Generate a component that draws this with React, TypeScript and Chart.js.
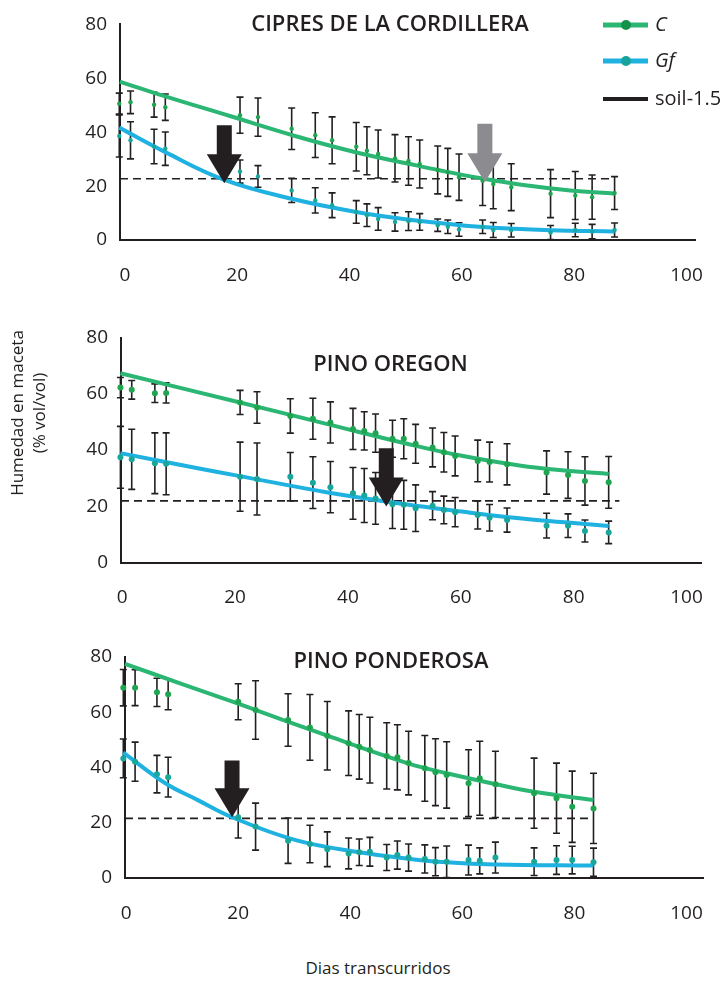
import React, { useEffect, useRef } from 'react';
import { Chart, registerables } from 'chart.js';

Chart.register(...registerables);

const FONT = "'Open Sans', 'DejaVu Sans', sans-serif";
const DARK = '#231f20';
const GREEN_LINE = '#2bb673';
const GREEN_PT = '#1fa54f';
const BLUE_LINE = '#1fb1e0';
const TEAL_PT = '#19a79c';

// ---------- shared ticks ----------
const xTickValues = [0, 20, 40, 60, 80, 100];
const yTickValues = [0, 20, 40, 60, 80];

// ---------- CIPRES DE LA CORDILLERA ----------
const cipresDays = [-1.0, 1.0, 5.2, 7.2, 20.5, 23.7, 29.7, 33.9, 36.9, 41.2, 43.1, 45.1, 48.1, 50.5, 52.5, 55.7, 57.5, 59.5, 63.7, 65.6, 68.8, 75.8, 80.2, 83.2, 87.2];
const cipresC = [50.6, 51.1, 50.2, 49.3, 46.3, 45.6, 41.3, 38.9, 37.0, 34.6, 33.1, 31.9, 30.3, 29.3, 28.2, 26.0, 25.1, 23.3, 22.0, 20.8, 19.6, 17.2, 16.5, 15.9, 17.4];
const cipresCErr = [3.9, 4.2, 4.6, 4.9, 6.7, 7.1, 7.7, 8.3, 8.7, 9.0, 8.9, 8.9, 8.8, 9.0, 8.9, 8.9, 8.9, 8.6, 9.2, 9.2, 8.7, 8.9, 8.9, 8.2, 6.1];
const cipresGf = [38.6, 37.0, 34.7, 33.9, 25.4, 23.6, 18.4, 14.7, 12.9, 10.4, 9.2, 7.8, 6.7, 7.0, 6.7, 5.5, 4.9, 3.9, 4.9, 3.7, 3.6, 2.8, 3.7, 3.1, 3.7];
const cipresGfErr = [7.8, 6.9, 6.4, 6.2, 4.3, 4.0, 4.5, 4.7, 4.6, 4.2, 4.2, 4.2, 3.4, 3.5, 3.1, 2.3, 2.5, 2.5, 2.5, 2.8, 2.5, 2.6, 2.5, 2.7, 2.6];
const cipresFitCDays = [-0.9, 7.2, 18.7, 30.3, 41.8, 50.5, 56.2, 63.7, 70.6, 79.3, 87.2];
const cipresFitC = [58.8, 53.3, 46.0, 38.6, 32.2, 28.3, 25.8, 22.8, 20.5, 18.4, 17.2];
const cipresFitGfDays = [-1.0, 7.2, 17.6, 29.7, 41.2, 50.5, 55.7, 63.7, 75.8, 87.2];
const cipresFitGf = [41.7, 32.6, 22.4, 15.3, 10.4, 7.6, 6.4, 4.8, 3.6, 3.2];
const cipresSoil = [22.7, 22.7];
const cipresSoilDays = [-0.87, 87.2];
const cipresArrowDays = [17.7, 64.1];
const cipresArrowTips = [21.1, 21.4];
const cipresArrowTops = [42.6, 43.1];

// ---------- PINO OREGON ----------
const oregonDays = [-0.3, 1.7, 5.8, 7.8, 20.9, 23.9, 29.8, 33.8, 36.9, 40.9, 42.9, 44.9, 47.9, 49.9, 52.0, 55.0, 57.0, 59.0, 63.0, 65.1, 68.2, 75.2, 79.0, 82.0, 86.2];
const oregonC = [62.2, 61.4, 60.2, 60.3, 56.9, 55.1, 52.1, 51.1, 49.8, 47.5, 46.8, 46.0, 44.0, 44.0, 42.2, 40.9, 39.2, 37.9, 36.1, 35.7, 34.9, 32.0, 31.1, 29.0, 28.5];
const oregonCErr = [3.6, 3.3, 3.3, 3.6, 4.3, 5.6, 6.1, 7.3, 7.3, 7.3, 6.8, 6.8, 6.6, 7.1, 6.9, 6.9, 7.0, 7.1, 7.4, 7.1, 7.3, 7.7, 8.3, 8.6, 9.2];
const oregonGf = [37.4, 36.7, 35.3, 35.1, 30.5, 29.7, 30.5, 28.4, 26.8, 24.6, 23.8, 22.8, 20.7, 20.5, 19.3, 20.2, 18.7, 17.9, 16.9, 15.9, 15.1, 13.1, 13.1, 11.2, 10.7];
const oregonGfErr = [11.0, 10.7, 10.8, 11.0, 12.3, 12.8, 8.6, 9.2, 9.1, 9.2, 9.6, 9.2, 8.6, 8.7, 8.3, 5.0, 4.9, 5.2, 5.0, 4.7, 4.3, 4.4, 4.2, 3.9, 4.0];
const oregonFitCDays = [-0.3, 20.9, 36.2, 50.5, 59.0, 70.4, 79.0, 86.2];
const oregonFitC = [67.3, 56.9, 49.3, 42.2, 38.4, 34.5, 32.6, 31.5];
const oregonFitGfDays = [-0.3, 13.4, 20.9, 36.2, 50.5, 59.0, 70.4, 79.0, 86.2];
const oregonFitGf = [38.9, 33.5, 30.7, 25.0, 20.6, 18.4, 15.7, 14.2, 13.0];
const oregonSoil = [21.9, 21.9];
const oregonSoilDays = [-0.2, 88.1];
const oregonArrowDays = [46.8];
const oregonArrowTips = [19.9];
const oregonArrowTops = [40.6];

// ---------- PINO PONDEROSA ----------
const ponderosaDays = [-0.5, 1.6, 5.5, 7.5, 20.0, 23.1, 28.9, 32.8, 35.9, 39.7, 41.6, 43.5, 46.5, 48.4, 50.4, 53.3, 55.2, 57.2, 61.1, 63.1, 65.9, 72.8, 76.8, 79.6, 83.4];
const ponderosaC = [68.9, 68.9, 67.2, 66.5, 63.8, 60.8, 57.2, 54.5, 51.5, 48.8, 47.5, 46.3, 44.2, 43.7, 41.6, 39.7, 38.3, 37.3, 34.3, 36.1, 33.9, 30.7, 28.9, 25.8, 25.2];
const ponderosaCErr = [6.6, 6.5, 5.1, 5.6, 6.5, 10.6, 9.5, 11.9, 12.4, 11.7, 11.7, 11.9, 12.0, 11.8, 11.5, 11.9, 12.1, 12.0, 12.1, 13.4, 12.0, 12.7, 12.7, 12.9, 12.7];
const ponderosaGf = [43.3, 42.1, 37.6, 36.5, 22.0, 18.6, 13.5, 12.3, 10.4, 8.9, 9.3, 9.5, 7.4, 8.3, 7.4, 6.9, 5.9, 5.9, 6.5, 6.2, 7.4, 5.9, 6.5, 6.5, 5.7];
const ponderosaGfErr = [7.0, 7.1, 6.8, 7.2, 7.5, 8.5, 8.2, 6.8, 6.3, 5.6, 4.8, 5.2, 4.7, 5.1, 4.9, 5.1, 5.1, 5.7, 5.4, 4.7, 5.6, 5.0, 5.2, 5.0, 5.1];
const ponderosaFitCDays = [-0.2, 10.0, 20.0, 35.9, 50.3, 57.2, 65.9, 72.8, 83.4];
const ponderosaFitC = [77.5, 70.2, 63.1, 51.5, 41.5, 37.9, 34.0, 31.2, 28.2];
const ponderosaFitGfDays = [-0.5, 7.0, 12.8, 18.9, 30.1, 41.6, 50.3, 57.2, 65.9, 83.4];
const ponderosaFitGf = [45.4, 34.3, 28.2, 22.0, 13.8, 9.3, 7.0, 5.7, 4.9, 4.5];
const ponderosaSoil = [21.6, 21.6];
const ponderosaSoilDays = [-0.2, 83.4];
const ponderosaArrowDays = [18.9];
const ponderosaArrowTips = [22.0];
const ponderosaArrowTops = [42.5];

const pts = (xs: number[], ys: number[]) => xs.map((x, i) => ({ x, y: ys[i] }));

const panels = [
  {
    key: 'cipres',
    title: 'CIPRES DE LA CORDILLERA',
    days: cipresDays, c: cipresC, cErr: cipresCErr, gf: cipresGf, gfErr: cipresGfErr,
    fitCDays: cipresFitCDays, fitC: cipresFitC, fitGfDays: cipresFitGfDays, fitGf: cipresFitGf,
    soil: cipresSoil, soilDays: cipresSoilDays,
    arrowDays: cipresArrowDays, arrowTips: cipresArrowTips, arrowTops: cipresArrowTops,
    arrowColors: [DARK, '#8c8c90'],
    layout: { top: 0, height: 300, areaLeft: 120, areaTop: 22.5, areaRight: 712, areaBottom: 240, xMin: -0.87, xMax: 101.6, pointR: 2.2, titleX: 390, titleY: 25 },
    legend: true,
  },
  {
    key: 'oregon',
    title: 'PINO OREGON',
    days: oregonDays, c: oregonC, cErr: oregonCErr, gf: oregonGf, gfErr: oregonGfErr,
    fitCDays: oregonFitCDays, fitC: oregonFitC, fitGfDays: oregonFitGfDays, fitGf: oregonFitGf,
    soil: oregonSoil, soilDays: oregonSoilDays,
    arrowDays: oregonArrowDays, arrowTips: oregonArrowTips, arrowTops: oregonArrowTops,
    arrowColors: [DARK],
    layout: { top: 300, height: 320, areaLeft: 121, areaTop: 37.5, areaRight: 721, areaBottom: 262.5, xMin: -0.2, xMax: 102.6, pointR: 3, titleX: 390.5, titleY: 65 },
    legend: false,
  },
  {
    key: 'ponderosa',
    title: 'PINO PONDEROSA',
    days: ponderosaDays, c: ponderosaC, cErr: ponderosaCErr, gf: ponderosaGf, gfErr: ponderosaGfErr,
    fitCDays: ponderosaFitCDays, fitC: ponderosaFitC, fitGfDays: ponderosaFitGfDays, fitGf: ponderosaFitGf,
    soil: ponderosaSoil, soilDays: ponderosaSoilDays,
    arrowDays: ponderosaArrowDays, arrowTips: ponderosaArrowTips, arrowTops: ponderosaArrowTops,
    arrowColors: [DARK],
    layout: { top: 620, height: 320, areaLeft: 125, areaTop: 37, areaRight: 721, areaBottom: 258, xMin: -0.2, xMax: 103.1, pointR: 3, titleX: 391, titleY: 41.7 },
    legend: false,
  },
];

const errorBarPlugin = {
  id: 'errorBars',
  beforeDatasetsDraw(chart: any) {
    const { ctx } = chart;
    const xs = chart.scales.x;
    const ys = chart.scales.y;
    ctx.save();
    ctx.strokeStyle = DARK;
    ctx.lineWidth = 1.6;
    chart.data.datasets.forEach((ds: any) => {
      if (!ds.errors) return;
      ds.data.forEach((p: any, i: number) => {
        const e = ds.errors[i];
        const px = xs.getPixelForValue(p.x);
        const y1 = ys.getPixelForValue(p.y + e);
        const y2 = ys.getPixelForValue(p.y - e);
        ctx.beginPath();
        ctx.moveTo(px, y1);
        ctx.lineTo(px, y2);
        ctx.moveTo(px - 3.5, y1);
        ctx.lineTo(px + 3.5, y1);
        ctx.moveTo(px - 3.5, y2);
        ctx.lineTo(px + 3.5, y2);
        ctx.stroke();
      });
    });
    ctx.restore();
  },
};

const arrowPlugin = {
  id: 'arrows',
  afterDatasetsDraw(chart: any, _a: any, opts: any) {
    if (!opts || !opts.days) return;
    const { ctx } = chart;
    const xs = chart.scales.x;
    const ys = chart.scales.y;
    ctx.save();
    opts.days.forEach((d: number, i: number) => {
      const cx = xs.getPixelForValue(d);
      const tip = ys.getPixelForValue(opts.tips[i]);
      const top = ys.getPixelForValue(opts.tops[i]);
      const headH = 29;
      const sh = 7.5;
      const hh = 17.5;
      ctx.fillStyle = opts.colors[i];
      ctx.beginPath();
      ctx.moveTo(cx - sh, top);
      ctx.lineTo(cx + sh, top);
      ctx.lineTo(cx + sh, tip - headH);
      ctx.lineTo(cx + hh, tip - headH);
      ctx.lineTo(cx, tip);
      ctx.lineTo(cx - hh, tip - headH);
      ctx.lineTo(cx - sh, tip - headH);
      ctx.closePath();
      ctx.fill();
    });
    ctx.restore();
  },
};

const titlePlugin = {
  id: 'panelTitle',
  afterDraw(chart: any, _a: any, opts: any) {
    if (!opts || !opts.text) return;
    const { ctx } = chart;
    ctx.save();
    ctx.fillStyle = DARK;
    ctx.font = `600 22px ${FONT}`;
    ctx.textAlign = 'center';
    ctx.textBaseline = 'middle';
    ctx.fillText(opts.text, opts.x, opts.y);
    ctx.restore();
  },
};

const legendPlugin = {
  id: 'panelLegend',
  afterDraw(chart: any, _a: any, opts: any) {
    if (!opts || !opts.items) return;
    const { ctx } = chart;
    ctx.save();
    opts.items.forEach((it: any) => {
      ctx.strokeStyle = it.line;
      ctx.lineWidth = it.width;
      ctx.beginPath();
      ctx.moveTo(603, it.y);
      ctx.lineTo(648, it.y);
      ctx.stroke();
      if (it.dot) {
        ctx.fillStyle = it.dot;
        ctx.beginPath();
        ctx.arc(626, it.y, 5, 0, Math.PI * 2);
        ctx.fill();
      }
      ctx.fillStyle = DARK;
      ctx.font = `${it.italic ? 'italic ' : ''}20px ${FONT}`;
      ctx.textAlign = 'left';
      ctx.textBaseline = 'middle';
      ctx.fillText(it.text, 655, it.y);
    });
    ctx.restore();
  },
};

function Panel({ cfg }: { cfg: any }) {
  const ref = useRef<HTMLCanvasElement>(null);
  const L = cfg.layout;
  useEffect(() => {
    const canvas = ref.current;
    if (!canvas) return;
    const tickFont = { family: FONT, size: 19 };
    const chart = new Chart(canvas, {
      type: 'scatter',
      data: {
        datasets: [
          {
            label: 'C',
            data: pts(cfg.days, cfg.c),
            errors: cfg.cErr,
            showLine: false,
            pointRadius: L.pointR,
            pointHoverRadius: L.pointR,
            pointBackgroundColor: GREEN_PT,
            pointBorderWidth: 0,
            clip: false,
            order: 0,
          } as any,
          {
            label: 'Gf',
            data: pts(cfg.days, cfg.gf),
            errors: cfg.gfErr,
            showLine: false,
            pointRadius: L.pointR,
            pointHoverRadius: L.pointR,
            pointBackgroundColor: TEAL_PT,
            pointBorderWidth: 0,
            clip: false,
            order: 0,
          } as any,
          {
            type: 'line',
            label: 'C ajuste',
            data: pts(cfg.fitCDays, cfg.fitC),
            borderColor: GREEN_LINE,
            borderWidth: 4,
            pointRadius: 0,
            tension: 0.4,
            fill: false,
            clip: false,
            order: 2,
          } as any,
          {
            type: 'line',
            label: 'Gf ajuste',
            data: pts(cfg.fitGfDays, cfg.fitGf),
            borderColor: BLUE_LINE,
            borderWidth: 4,
            pointRadius: 0,
            tension: 0.4,
            fill: false,
            clip: false,
            order: 2,
          } as any,
          {
            type: 'line',
            label: 'soil-1.5',
            data: pts(cfg.soilDays, cfg.soil),
            borderColor: DARK,
            borderWidth: 1.6,
            borderDash: [8, 5],
            pointRadius: 0,
            fill: false,
            clip: false,
            order: 3,
          } as any,
        ],
      },
      options: {
        responsive: false,
        maintainAspectRatio: false,
        animation: false,
        events: [],
        layout: { padding: { left: 0, top: L.areaTop, right: 727 - L.areaRight, bottom: 0 } },
        plugins: {
          legend: { display: false },
          tooltip: { enabled: false },
          panelTitle: { text: cfg.title, x: L.titleX, y: L.titleY },
          arrows: { days: cfg.arrowDays, tips: cfg.arrowTips, tops: cfg.arrowTops, colors: cfg.arrowColors },
          panelLegend: cfg.legend
            ? {
                items: [
                  { text: 'C', italic: true, line: GREEN_LINE, width: 5, dot: '#14924a', y: 25 },
                  { text: 'Gf', italic: true, line: BLUE_LINE, width: 5, dot: '#17a39d', y: 61 },
                  { text: 'soil-1.5', italic: false, line: DARK, width: 4, dot: null, y: 99 },
                ],
              }
            : {},
        } as any,
        scales: {
          x: {
            type: 'linear',
            min: L.xMin,
            max: L.xMax,
            grid: { display: false, drawTicks: false },
            border: { display: true, color: DARK, width: 2 },
            ticks: { color: DARK, font: tickFont, padding: 24, maxRotation: 0, autoSkip: false },
            afterBuildTicks: (s: any) => {
              s.ticks = xTickValues.map((v) => ({ value: v }));
            },
            afterFit: (s: any) => {
              s.height = L.height - L.areaBottom;
            },
          },
          y: {
            type: 'linear',
            min: 0,
            max: 80,
            grid: { display: false, drawTicks: false },
            border: { display: true, color: DARK, width: 2 },
            ticks: { color: DARK, font: tickFont, padding: 13, autoSkip: false },
            afterBuildTicks: (s: any) => {
              s.ticks = yTickValues.map((v) => ({ value: v }));
            },
            afterFit: (s: any) => {
              s.width = L.areaLeft;
            },
          },
        } as any,
      },
      plugins: [errorBarPlugin, arrowPlugin, titlePlugin, legendPlugin],
    } as any);
    return () => chart.destroy();
  }, []);
  return (
    <canvas
      ref={ref}
      width={727}
      height={L.height}
      style={{ position: 'absolute', left: 0, top: L.top, width: 727, height: L.height, display: 'block' }}
    />
  );
}

export default function App() {
  return (
    <div
      style={{
        position: 'absolute',
        left: 0,
        top: 0,
        width: 727,
        height: 982,
        background: '#ffffff',
        overflow: 'hidden',
        fontFamily: FONT,
        color: DARK,
      }}
    >
      {panels.map((p) => (
        <Panel key={p.key} cfg={p} />
      ))}
      <div
        style={{
          position: 'absolute',
          left: 28 - 150,
          top: 413 - 22,
          width: 300,
          height: 44,
          transform: 'rotate(-90deg)',
          textAlign: 'center',
          fontSize: 17,
          lineHeight: '22px',
          whiteSpace: 'nowrap',
        }}
      >
        Humedad en maceta
        <br />
        (% vol/vol)
      </div>
      <div
        style={{
          position: 'absolute',
          left: 378 - 150,
          top: 968 - 12,
          width: 300,
          textAlign: 'center',
          fontSize: 17,
          lineHeight: '24px',
          whiteSpace: 'nowrap',
        }}
      >
        Dias transcurridos
      </div>
    </div>
  );
}
